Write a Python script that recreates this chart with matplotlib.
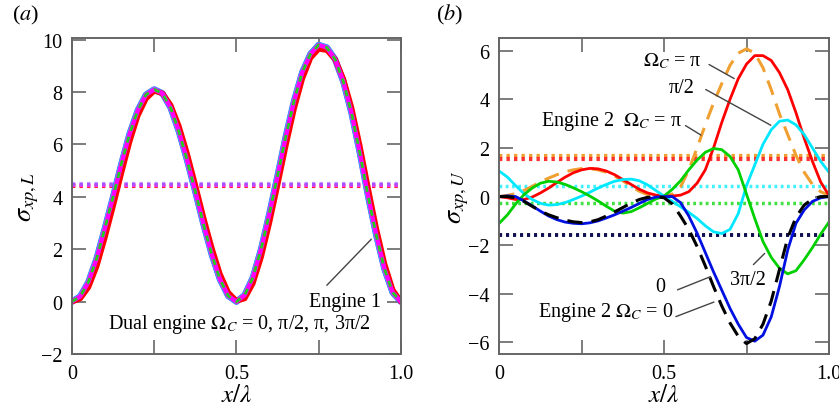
import numpy as np
import matplotlib.pyplot as plt

plt.rcParams['font.family'] = ['Liberation Serif', 'DejaVu Serif']
plt.rcParams['mathtext.fontset'] = 'stix'
plt.rcParams['font.size'] = 14

# sample positions x/lambda, every 0.025
x = np.linspace(0, 1, 41)

# (a) sigma_xp,L
sig_L_main = [0.0, 0.2, 0.75, 1.65, 2.8, 4.0, 5.25, 6.4, 7.3, 7.9, 8.1,
              7.95, 7.4, 6.5, 5.4, 4.2, 2.95, 1.8, 0.85, 0.22, 0.0,
              0.25, 0.92, 2.0, 3.35, 4.8, 6.3, 7.65, 8.75, 9.45, 9.8,
              9.7, 9.25, 8.4, 7.2, 5.7, 4.05, 2.55, 1.25, 0.35, 0.0]
sig_L_red = [0.0, 0.12, 0.55, 1.35, 2.45, 3.65, 4.9, 6.1, 7.1, 7.75, 8.05,
             7.95, 7.5, 6.7, 5.65, 4.45, 3.2, 2.05, 1.05, 0.35, 0.03,
             0.12, 0.7, 1.7, 3.0, 4.45, 5.95, 7.35, 8.5, 9.3, 9.65,
             9.6, 9.25, 8.5, 7.4, 5.95, 4.35, 2.8, 1.45, 0.45, 0.0]
mean_L = {'blue': 4.48, 'magenta': 4.45, 'red': 4.4}

# (b) sigma_xp,U
sig_U_0 = [0.0, 0.03, 0.0, -0.18, -0.38, -0.6, -0.8, -0.95, -1.05, -1.1, -1.12,
           -1.08, -1.0, -0.88, -0.75, -0.6, -0.45, -0.28, -0.12, -0.02, 0.0,
           0.0, -0.25, -0.8, -1.5, -2.3, -3.1, -3.85, -4.6, -5.25, -5.8,
           -5.95, -5.7, -4.95, -3.7, -2.2, -1.1, -0.55, -0.2, -0.05, 0.0]
sig_U_e2_0 = [0.0, 0.0, -0.05, -0.2, -0.4, -0.6, -0.75, -0.87, -0.97, -1.04, -1.07,
              -1.04, -0.95, -0.8, -0.63, -0.45, -0.27, -0.12, -0.03, 0.0, -0.05,
              -0.3, -0.8, -1.35, -2.05, -2.85, -3.7, -4.5, -5.2, -5.75, -6.05,
              -5.85, -5.25, -4.3, -3.0, -1.7, -0.85, -0.35, -0.1, 0.0, 0.0]
sig_U_pi = [0.0, -0.05, -0.12, -0.12, -0.02, 0.15, 0.35, 0.58, 0.8, 0.98, 1.1,
            1.16, 1.14, 1.05, 0.9, 0.7, 0.5, 0.3, 0.15, 0.06, 0.02,
            0.02, 0.06, 0.2, 0.55, 1.1, 2.0, 3.05, 4.0, 4.85, 5.45,
            5.8, 5.8, 5.6, 5.1, 4.4, 3.45, 2.4, 1.45, 0.6, 0.05]
sig_U_e2_pi = [0.0, 0.05, 0.12, 0.25, 0.42, 0.6, 0.76, 0.9, 1.02, 1.1, 1.15,
               1.15, 1.1, 1.0, 0.85, 0.65, 0.42, 0.22, 0.08, 0.02, 0.0,
               0.1, 0.4, 1.1, 2.0, 2.95, 3.85, 4.65, 5.4, 5.9, 6.08,
               5.9, 5.3, 4.4, 3.4, 2.55, 1.7, 1.0, 0.5, 0.2, 0.05]
sig_U_half = [1.05, 0.8, 0.45, 0.12, -0.12, -0.28, -0.35, -0.33, -0.25, -0.12, 0.02,
              0.18, 0.35, 0.5, 0.63, 0.7, 0.72, 0.65, 0.48, 0.25, 0.02,
              -0.2, -0.42, -0.65, -0.9, -1.2, -1.45, -1.52, -1.35, -0.7, 0.45,
              1.3, 2.15, 2.75, 3.1, 3.15, 2.95, 2.55, 2.0, 1.45, 1.0]
sig_U_3half = [-1.1, -0.75, -0.3, 0.08, 0.35, 0.55, 0.63, 0.6, 0.5, 0.36, 0.2,
               0.02, -0.18, -0.4, -0.6, -0.68, -0.62, -0.46, -0.28, -0.1, 0.02,
               0.3, 0.65, 1.1, 1.5, 1.82, 1.98, 1.93, 1.65, 1.1, 0.1,
               -0.9, -1.85, -2.5, -2.95, -3.18, -3.05, -2.6, -2.1, -1.55, -1.05]
mean_U = {'orange': 1.66, 'red': 1.56, 'cyan': 0.45, 'green': -0.25, 'navy': -1.6}

frame_col = '#666666'
lead_col = '#444444'
OM = r'$\mathit{\Omega}_\mathit{C}$'

fig = plt.figure(figsize=(8.39, 4.10), dpi=100)
ax1 = fig.add_axes([0.0858, 0.134, 0.392, 0.770])
ax2 = fig.add_axes([0.595, 0.134, 0.393, 0.770])

dot = (0, (0.8, 1.0))
sty = dict(solid_joinstyle='round', solid_capstyle='round')

# ---- panel (a)
ax1.axhline(mean_L['red'], color='#ff2020', lw=3, ls=dot)
ax1.axhline(mean_L['magenta'], color='#ff30ff', lw=3, ls=dot)
ax1.axhline(mean_L['blue'], color='#8060ff', lw=3, ls=dot, alpha=0.6)
ax1.plot(x, sig_L_main, color='#4050ff', lw=4.6, **sty)
ax1.plot(x, sig_L_main, color='#20d8ff', lw=4.0, **sty)
ax1.plot(x, sig_L_red, color='#ff0000', lw=4.0, **sty)
ax1.plot(x, sig_L_main, color='#ff00ff', lw=3.2, **sty)
ax1.plot(x, sig_L_main, color='#20d020', lw=2.0, ls=(0, (2.2, 2.2)))

ax1.set_xlim(0, 1)
ax1.set_ylim(-2, 10.05)
ax1.set_yticks([-2, 0, 2, 4, 6, 8, 10])
ax1.set_yticklabels(['\u22122', '0', '2', '4', '6', '8', '10'])

ax1.annotate('', xy=(0.916, 2.46), xytext=(0.769, 0.55),
             arrowprops=dict(arrowstyle='-', color=lead_col, lw=1))
ax1.text(0.94, 0.0, 'Engine 1', ha='right', va='center', fontsize=14.5)
ax1.text(0.51, -0.85, 'Dual engine ' + OM + ' = 0, π/2, π, 3π/2',
         ha='center', va='center', fontsize=14.5)
ax1.set_ylabel(r'$\sigma_{\mathit{xp,L}}$', fontsize=19, labelpad=0)

# ---- panel (b)
ax2.axhline(mean_U['orange'], color='#f0a030', lw=3, ls=dot)
ax2.axhline(mean_U['red'], color='#ff3030', lw=3, ls=dot)
ax2.axhline(mean_U['cyan'], color='#40f0ff', lw=2.5, ls=dot)
ax2.axhline(mean_U['green'], color='#40e040', lw=2.5, ls=dot)
ax2.axhline(mean_U['navy'], color='#101050', lw=2.8, ls=dot)
ax2.plot(x, sig_U_e2_pi, color='#f0a030', lw=2.2, ls=(0, (5, 3)))
ax2.plot(x, sig_U_pi, color='#ff0000', lw=2, **sty)
ax2.plot(x, sig_U_half, color='#00e8ff', lw=2, **sty)
ax2.plot(x, sig_U_3half, color='#00d000', lw=2, **sty)
ax2.plot(x, sig_U_0, color='#0010e0', lw=2, **sty)
ax2.plot(x, sig_U_e2_0, color='black', lw=2.2, ls=(0, (5, 3)))

ax2.set_xlim(0, 1)
ax2.set_ylim(-6.48, 6.51)
ax2.set_yticks([-6, -4, -2, 0, 2, 4, 6])
ax2.set_yticklabels(['\u22126', '\u22124', '\u22122', '0', '2', '4', '6'])

lead = dict(arrowstyle='-', color=lead_col, lw=1)
ax2.annotate('', xy=(0.72, 4.8), xytext=(0.629, 5.49), arrowprops=lead)
ax2.text(0.614, 5.62, OM + ' = π', ha='right', va='center', fontsize=14.5)
ax2.annotate('', xy=(0.831, 2.88), xytext=(0.619, 4.46), arrowprops=lead)
ax2.text(0.594, 4.49, 'π/2', ha='right', va='center', fontsize=14.5)
ax2.annotate('', xy=(0.619, 2.47), xytext=(0.558, 2.98), arrowprops=lead)
ax2.text(0.553, 3.15, 'Engine 2  ' + OM + ' = π', ha='right', va='center', fontsize=14.5)
ax2.annotate('', xy=(0.649, -3.25), xytext=(0.533, -3.88), arrowprops=lead)
ax2.text(0.487, -3.7, '0', ha='center', va='center', fontsize=14.5)
ax2.annotate('', xy=(0.659, -4.3), xytext=(0.528, -4.98), arrowprops=lead)
ax2.text(0.528, -4.73, 'Engine 2 ' + OM + ' = 0', ha='right', va='center', fontsize=14.5)
ax2.annotate('', xy=(0.811, -2.26), xytext=(0.765, -2.88), arrowprops=lead)
ax2.text(0.753, -3.43, '3π/2', ha='center', va='center', fontsize=14.5)
ax2.set_ylabel(r'$\sigma_{\mathit{xp,U}}$', fontsize=19, labelpad=-2)

for ax in (ax1, ax2):
    ax.set_xticks([0, 0.25, 0.5, 0.75, 1.0])
    ax.set_xticklabels(['0', '', '0.5', '', '1.0'])
    ax.tick_params(direction='in', length=10, width=1.2, color=frame_col,
                   top=True, right=True, labelsize=14.5, pad=7)
    for s in ax.spines.values():
        s.set_color(frame_col)
        s.set_linewidth(1.4)
    ax.set_xlabel(r'$\mathit{x}/\lambda$', fontsize=18, labelpad=1)

fig.text(0.031, 0.963, r'($\mathit{a}$)', ha='center', va='center', fontsize=16)
fig.text(0.536, 0.963, r'($\mathit{b}$)', ha='center', va='center', fontsize=16)

fig.savefig('out.png', dpi=100)
